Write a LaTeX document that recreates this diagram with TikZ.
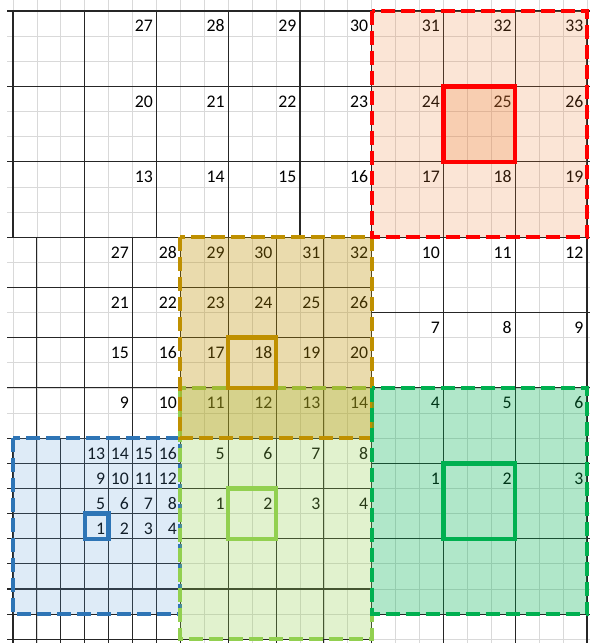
\documentclass[tikz,border=0pt]{standalone}
\usepackage{fontspec}
\setmainfont{Carlito}
\definecolor{cblue}{HTML}{2E75B6}
\definecolor{cbluef}{HTML}{5B9BD5}
\definecolor{clg}{HTML}{92D050}
\definecolor{cgold}{HTML}{BF9000}
\definecolor{cred}{HTML}{FF0000}
\definecolor{corange}{HTML}{ED7D31}
\definecolor{cdg}{HTML}{00B050}
\begin{document}
\begin{tikzpicture}[x=17.94pt, y=-18.85pt,
  gridg/.style={draw=black!15, line width=0.6pt},
  gridk/.style={draw=black!85, line width=0.8pt},
  num/.style={anchor=base east, inner sep=0pt, font=\fontsize{13.3}{16}\selectfont},
  dbox/.style={line width=3pt, dash pattern=on 10.5pt off 4.5pt},
  sbox/.style={line width=3.3pt},
]
\useasboundingbox (-0.5435,-0.4377) rectangle (24.122,25.149);
\clip (-0.5435,-0.4377) rectangle (24.122,25.149);
% light grid
\foreach \i in {0,...,24} \draw[gridg] (\i,-0.5) -- (\i,25.3);
\foreach \j in {1,...,25} \draw[gridg] (-0.25,\j) -- (24.2,\j);
% large grid (top)
\foreach \i in {0,3,...,24} \draw[gridk] (\i,0) -- (\i,9);
\foreach \j in {0,3,6,9} \draw[gridk] (-0.25,\j) -- (24.2,\j);
% large grid (right)
\foreach \i in {15,18,21,24} \draw[gridk] (\i,9) -- (\i,25.3);
\foreach \j in {12,15,...,24} \draw[gridk] (15,\j) -- (24.2,\j);
% medium grid
\foreach \i in {1,3,...,15} \draw[gridk] (\i,9) -- (\i,17);
\foreach \j in {11,13,15,17} \draw[gridk] (-0.25,\j) -- (15,\j);
\foreach \i in {7,9,...,15} \draw[gridk] (\i,17) -- (\i,25.3);
\foreach \j in {19,21,23,25} \draw[gridk] (7,\j) -- (15,\j);
% small grid
\foreach \i in {0,...,7} \draw[gridk] (\i,17) -- (\i,25.3);
\foreach \j in {18,...,25} \draw[gridk] (-0.25,\j) -- (7,\j);
% numbers: large grid top
\foreach \r/\b in {0/27,3/20,6/13} \foreach \k in {0,...,6} {
  \pgfmathtruncatemacro\n{\b+\k}
  \node[num] (L-\r-\k) at ({6+3*\k-0.14},{\r+0.83}) {\n};}
% large grid right
\foreach \r/\b in {9/10,12/7,15/4,18/1} \foreach \k in {0,...,2} {
  \pgfmathtruncatemacro\n{\b+\k}
  \node[num] (R-\r-\k) at ({18+3*\k-0.14},{\r+0.83}) {\n};}
% medium grid
\foreach \r/\b in {9/27,11/21,13/15,15/9} \foreach \k in {0,...,5} {
  \pgfmathtruncatemacro\n{\b+\k}
  \node[num] (M-\r-\k) at ({5+2*\k-0.14},{\r+0.83}) {\n};}
\foreach \r/\b in {17/5,19/1} \foreach \k in {0,...,3} {
  \pgfmathtruncatemacro\n{\b+\k}
  \node[num] (N-\r-\k) at ({9+2*\k-0.14},{\r+0.83}) {\n};}
% small grid
\foreach \r/\b in {17/13,18/9,19/5,20/1} \foreach \k in {0,...,3} {
  \pgfmathtruncatemacro\n{\b+\k}
  \node[num] (S-\r-\k) at ({4+\k-0.14},{\r+0.83}) {\n};}
% blue region
\fill[cbluef, opacity=0.2] (0,17) rectangle (7,24);
\draw[cblue, dbox] (0,17) rectangle (7,24);
% light green region
\fill[clg, opacity=0.28] (7,15) rectangle (15,25);
\draw[clg, dbox] (7,15) rectangle (15,25);
% gold region
\fill[cgold, opacity=0.32] (7,9) rectangle (15,17);
\draw[cgold, dbox] (7,9) rectangle (15,17);
% red region
\fill[corange, opacity=0.2] (15,0) rectangle (24,9);
\fill[corange, opacity=0.22] (18,3) rectangle (21,6);
\draw[cred, dbox] (15,0) rectangle (24,9);
% dark green region
\fill[cdg, opacity=0.31] (15,15) rectangle (24,24);
\draw[cdg, dbox] (15,15) rectangle (24,24);
% solid squares
\draw[cblue, sbox] (3,20) rectangle (4,21);
\draw[clg, sbox] (9,19) rectangle (11,21);
\draw[cgold, sbox] (9,13) rectangle (11,15);
\draw[cred, sbox] (18,3) rectangle (21,6);
\draw[cdg, sbox] (18,18) rectangle (21,21);
\end{tikzpicture}
\end{document}
